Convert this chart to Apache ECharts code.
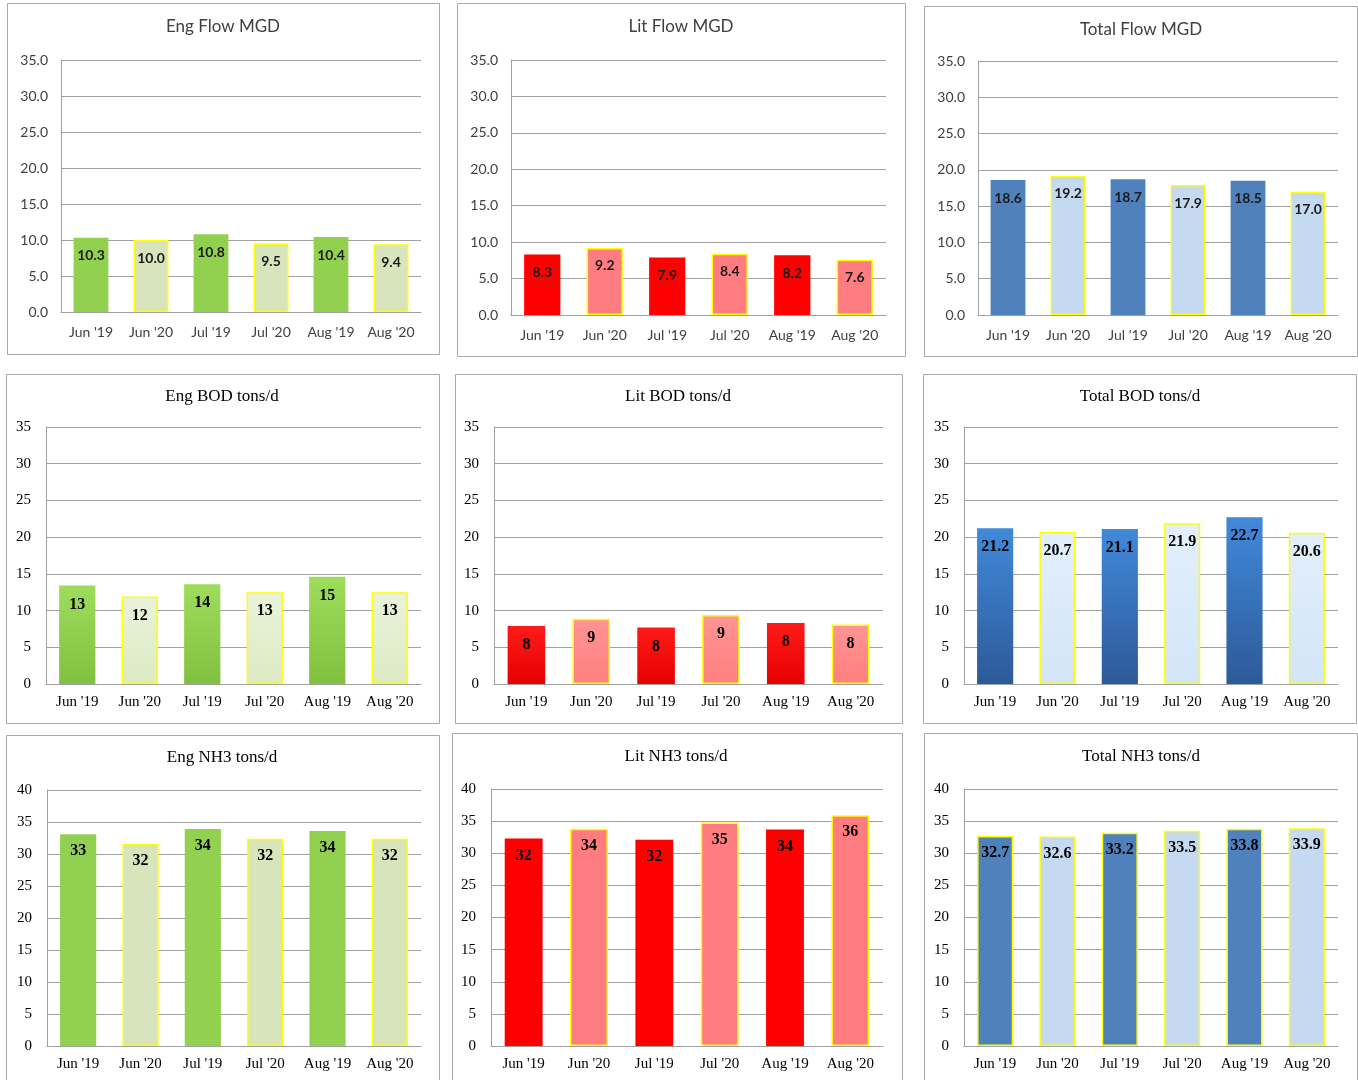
<!DOCTYPE html>
<html><head><meta charset="utf-8">
<script src="https://cdn.jsdelivr.net/npm/echarts@6/dist/echarts.min.js"></script>
<style>html,body{margin:0;padding:0;background:#fff}#c{width:1358px;height:1080px}</style>
</head><body><div id="c"></div><script>
// ---- data ----
const categories = ["Jun '19", "Jun '20", "Jul '19", "Jul '20", "Aug '19", "Aug '20"];
const engFlow   = [10.3, 10.0, 10.8, 9.5, 10.4, 9.4];
const litFlow   = [8.3, 9.2, 7.9, 8.4, 8.2, 7.6];
const totalFlow = [18.6, 19.2, 18.7, 17.9, 18.5, 17.0];
const engBOD    = [13.4, 11.9, 13.6, 12.5, 14.6, 12.5];
const litBOD    = [7.9, 8.9, 7.7, 9.4, 8.3, 8.1];
const totalBOD  = [21.2, 20.7, 21.1, 21.9, 22.7, 20.6];
const engNH3    = [33.1, 31.6, 33.9, 32.4, 33.6, 32.4];
const litNH3    = [32.3, 33.8, 32.1, 34.8, 33.7, 35.9];
const totalNH3  = [32.7, 32.6, 33.2, 33.5, 33.8, 33.9];
const titles = ["Eng Flow MGD", "Lit Flow MGD", "Total Flow MGD",
                "Eng BOD tons/d", "Lit BOD tons/d", "Total BOD tons/d",
                "Eng NH3 tons/d", "Lit NH3 tons/d", "Total NH3 tons/d"];
const yMaxRow = [35, 35, 40];

// ---- layout / style ----
const panels = [
  {box:[7,3,432,351],   grid:[61,60,360,252],  title:[223,27]},
  {box:[457,3,448,353], grid:[511,60,375,255], title:[681,27]},
  {box:[924,6,433,350], grid:[978,61,360,254], title:[1141,30]},
  {box:[6,374,433,349], grid:[46,427,375,257], title:[222,397]},
  {box:[455,374,447,349], grid:[494,427,389,257], title:[678,397]},
  {box:[923,374,433,349], grid:[964,427,374,257], title:[1140,397]},
  {box:[6,735,433,360], grid:[47,790,374,256], title:[222,758]},
  {box:[452,733,450,360], grid:[491,789,392,257], title:[676,757]},
  {box:[924,733,433,360], grid:[964,789,374,257], title:[1141,757]}
];
const seriesData = [engFlow, litFlow, totalFlow, engBOD, litBOD, totalBOD, engNH3, litNH3, totalNH3];

function vgrad(a, b) {
  return {type:'linear', x:0, y:0, x2:0, y2:1, colorStops:[{offset:0,color:a},{offset:1,color:b}]};
}
// colours [dark, light] per column (eng, lit, total) per row
const palette = [
  [['#92D050','#D8E4BC'], ['#FF0000','#FF7C80'], ['#4F81BD','#C5D9F1']],
  [[vgrad('#9EDC5C','#82C040'), vgrad('#EAF3DA','#DCEAC4')],
   [vgrad('#FF1A1A','#E80000'), vgrad('#FF9494','#FF7F7F')],
   [vgrad('#4189DA','#2C5A98'), vgrad('#E3EFFC','#D3E5F8')]],
  [['#92D050','#D8E4BC'], ['#FF0000','#FF7C80'], ['#4F81BD','#C5D9F1']]
];

const option = {animation:false, backgroundColor:'#fff', grid:[], xAxis:[], yAxis:[], series:[], graphic:[]};

panels.forEach((p, i) => {
  const row = Math.floor(i / 3), col = i % 3;
  const sans = row === 0;
  const fam = sans ? 'Lato' : 'Liberation Serif';
  const txtCol = sans ? '#404040' : '#000';
  const isTotal = col === 2;
  const decimals = (row === 0 || isTotal) ? 1 : 0;
  option.graphic.push({type:'rect', silent:true, z:-10,
    shape:{x:p.box[0]+0.5, y:p.box[1]+0.5, width:p.box[2], height:p.box[3]},
    style:{fill:'none', stroke:'#A8A8A8', lineWidth:1}});
  option.graphic.push({type:'text', x:p.title[0], y:p.title[1],
    style:{text:titles[i], fill:sans ? '#404040' : '#000', font:(sans ? '17px Lato' : '17px "Liberation Serif"'),
      textAlign:'center', textVerticalAlign:'middle'}});
  option.grid.push({left:p.grid[0], top:p.grid[1], width:p.grid[2], height:p.grid[3], containLabel:false});
  option.xAxis.push({type:'category', gridIndex:i, data:categories,
    axisLine:{show:true, lineStyle:{color:'#A0A0A0', width:1}}, axisTick:{show:false},
    axisLabel:{fontFamily:fam, fontSize:sans ? 14 : 15, color:txtCol, margin:sans ? 13 : 11, interval:0}});
  option.yAxis.push({type:'value', gridIndex:i, min:0, max:yMaxRow[row], interval:5,
    axisLine:{show:true, lineStyle:{color:'#A0A0A0', width:1}}, axisTick:{show:false},
    splitLine:{show:true, lineStyle:{color:'#A0A0A0', width:1}},
    axisLabel:{fontFamily:fam, fontSize:sans ? 14 : 15, color:txtCol, margin:sans ? 13 : 15,
      formatter: v => sans ? v.toFixed(1) : String(v)}});
  const cols = palette[row][col];
  const data = seriesData[i].map((v, k) => {
    const light = k % 2 === 1;
    const yellow = light || (row === 2 && isTotal);
    return {value:v, itemStyle:{color:cols[light ? 1 : 0],
      borderColor: yellow ? '#FFFF00' : 'transparent', borderWidth: yellow ? 1.5 : 0}};
  });
  option.series.push({type:'bar', xAxisIndex:i, yAxisIndex:i, data:data, barWidth:'58%',
    label:{show:true, position:'insideTop', distance:sans ? 11 : (row === 1 ? 11 : 9),
      fontFamily:fam, fontWeight:'bold', fontSize:sans ? 14 : 16, color:sans ? '#1a1a1a' : '#000',
      formatter: d => d.value.toFixed(decimals)}});
});

const chart = echarts.init(document.getElementById('c'), null, {renderer:'canvas'});
chart.setOption(option);
</script></body></html>
